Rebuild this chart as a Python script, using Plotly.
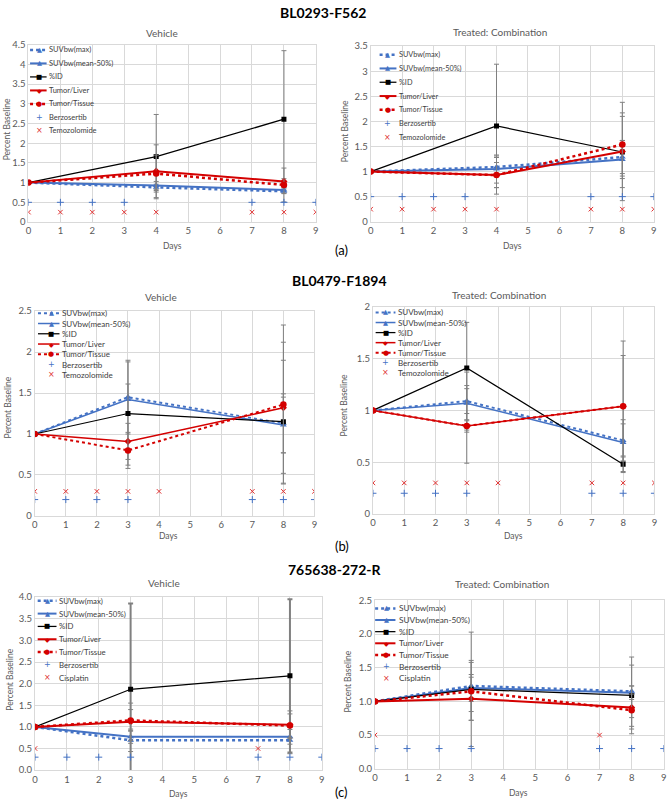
import plotly.graph_objects as go

W, H = 669, 807

# ---------------- data ----------------
DAYS_A = [0, 4, 8]
DAYS_BC = [0, 3, 8]
SERIES = ["SUVbw(max)", "SUVbw(mean-50%)", "%ID", "Tumor/Liver", "Tumor/Tissue"]

# (a) BL0293-F562 Vehicle
A_V_SUVMAX = [1.00, 0.88, 0.78]; A_V_SUVMAX_ERR = [0, 0.08, 0.06]
A_V_SUVMEAN = [1.00, 0.93, 0.81]; A_V_SUVMEAN_ERR = [0, 0.10, 0.08]
A_V_ID = [1.00, 1.66, 2.61]; A_V_ID_ERR = [0, 1.07, 1.74]
A_V_TL = [1.00, 1.29, 1.03]; A_V_TL_ERR = [0, 0.67, 0.07]
A_V_TT = [1.00, 1.23, 0.94]; A_V_TT_ERR = [0, 0.47, 0.43]
# (a) Treated
A_T_SUVMAX = [1.00, 1.09, 1.29]; A_T_SUVMAX_ERR = [0, 0.19, 0.33]
A_T_SUVMEAN = [1.00, 1.05, 1.24]; A_T_SUVMEAN_ERR = [0, 0.28, 0.38]
A_T_ID = [1.00, 1.91, 1.39]; A_T_ID_ERR = [0, 1.23, 0.71]
A_T_TL = [1.00, 0.93, 1.40]; A_T_TL_ERR = [0, 0.38, 0.98]
A_T_TT = [1.00, 0.93, 1.54]; A_T_TT_ERR = [0, 0.25, 0.63]

# (b) BL0479-F1894 Vehicle
B_V_SUVMAX = [1.00, 1.45, 1.13]; B_V_SUVMAX_ERR = [0, 0.45, 0.36]
B_V_SUVMEAN = [1.00, 1.42, 1.11]; B_V_SUVMEAN_ERR = [0, 0.19, 0.34]
B_V_ID = [1.00, 1.25, 1.15]; B_V_ID_ERR = [0, 0.63, 0.75]
B_V_TL = [1.00, 0.91, 1.32]; B_V_TL_ERR = [0, 0.22, 0.80]
B_V_TT = [1.00, 0.80, 1.36]; B_V_TT_ERR = [0, 0.22, 0.97]
# (b) Treated
B_T_SUVMAX = [1.00, 1.09, 0.71]; B_T_SUVMAX_ERR = [0, 0.28, 0.20]
B_T_SUVMEAN = [1.00, 1.07, 0.69]; B_T_SUVMEAN_ERR = [0, 0.17, 0.18]
B_T_ID = [1.00, 1.41, 0.48]; B_T_ID_ERR = [0, 0.44, 0.08]
B_T_TL = [1.00, 0.85, 1.04]; B_T_TL_ERR = [0, 0.36, 0.63]
B_T_TT = [1.00, 0.85, 1.04]; B_T_TT_ERR = [0, 0.06, 0.49]

# (c) 765638-272-R Vehicle
C_V_SUVMAX = [1.00, 0.69, 0.69]; C_V_SUVMAX_ERR = [0, 0.26, 0.31]
C_V_SUVMEAN = [1.00, 0.77, 0.77]; C_V_SUVMEAN_ERR = [0, 0.15, 0.17]
C_V_ID = [1.00, 1.87, 2.18]; C_V_ID_ERR = [0, 1.98, 1.77]
C_V_TL = [1.00, 1.12, 1.05]; C_V_TL_ERR = [0, 0.43, 0.32]
C_V_TT = [1.00, 1.15, 1.03]; C_V_TT_ERR = [0, 0.25, 0.27]
# (c) Treated
C_T_SUVMAX = [1.00, 1.23, 1.15]; C_T_SUVMAX_ERR = [0, 0.38, 0.39]
C_T_SUVMEAN = [1.00, 1.20, 1.13]; C_T_SUVMEAN_ERR = [0, 0.20, 0.10]
C_T_ID = [1.00, 1.18, 1.09]; C_T_ID_ERR = [0, 0.85, 0.57]
C_T_TL = [1.00, 1.04, 0.91]; C_T_TL_ERR = [0, 0.32, 0.32]
C_T_TT = [1.00, 1.15, 0.87]; C_T_TT_ERR = [0, 0.43, 0.24]

# dosing markers
BERZ_DAYS = [0, 1, 2, 3, 7, 8, 9]
TMZ_DAYS = [0, 1, 2, 3, 4, 7, 8, 9]
CIS_DAYS = [0, 7]
A_BERZ_LEVEL, A_TMZ_LEVEL = 0.5, 0.25
B_BERZ_LEVEL, B_TMZ_LEVEL = 0.2, 0.3
C_BERZ_LEVEL, C_CIS_LEVEL = 0.3, 0.5

GROUP_TITLES = ["BL0293-F562", "BL0479-F1894", "765638-272-R"]
PANEL_LABELS = ["(a)", "(b)", "(c)"]

# ---------------- styling ----------------
BLUE = "#4472C4"
RED = "#D40000"
XRED = "#E03030"
BLACK = "#000000"
GRID = "#D9D9D9"
ERRC = "#808080"
TXT = "#595959"
FONT = "Lato"

STYLES = [
    dict(color=BLUE, dash="dot", symbol="triangle-up", msize=6, glyph="▲", gsize=6.5),
    dict(color=BLUE, dash="solid", symbol="triangle-up", msize=6, glyph="▲", gsize=6.5),
    dict(color=BLACK, dash="solid", symbol="square", msize=5, glyph="■", gsize=6.5),
    dict(color=RED, dash="solid", symbol="diamond", msize=5.5, glyph="◆", gsize=6),
    dict(color=RED, dash="dot", symbol="circle", msize=6.5, glyph="●", gsize=7),
]

panels = [
    dict(days=DAYS_A,
         vals=[A_V_SUVMAX, A_V_SUVMEAN, A_V_ID, A_V_TL, A_V_TT],
         errs=[A_V_SUVMAX_ERR, A_V_SUVMEAN_ERR, A_V_ID_ERR, A_V_TL_ERR, A_V_TT_ERR],
         box=(25.7, 39.3, 315.7, 219.0), ymax=4.5, fmt="", title="Vehicle", txy=(160, 27),
         lw=2.0, et=1, drug2="Temozolomide", d2days=TMZ_DAYS, d2lvl=A_TMZ_LEVEL, berz=A_BERZ_LEVEL,
         leg=(27.3, 44, 36.5, 45.5, 44.5, 13.7), lfs=7.5, ylab=(4, 125), dlab=(171, 243)),
    dict(days=DAYS_A,
         vals=[A_T_SUVMAX, A_T_SUVMEAN, A_T_ID, A_T_TL, A_T_TT],
         errs=[A_T_SUVMAX_ERR, A_T_SUVMEAN_ERR, A_T_ID_ERR, A_T_TL_ERR, A_T_TT_ERR],
         box=(371.0, 40.7, 656.7, 218.7), ymax=3.5, fmt="", title="Treated: Combination", txy=(501.7, 26),
         lw=2.0, et=1, drug2="Temozolomide", d2days=TMZ_DAYS, d2lvl=A_TMZ_LEVEL, berz=A_BERZ_LEVEL,
         leg=(380, 397, 388, 398.5, 49.3, 14.0), lfs=7.3, ylab=(345, 127), dlab=(514, 243)),
    dict(days=DAYS_BC,
         vals=[B_V_SUVMAX, B_V_SUVMEAN, B_V_ID, B_V_TL, B_V_TT],
         errs=[B_V_SUVMAX_ERR, B_V_SUVMEAN_ERR, B_V_ID_ERR, B_V_TL_ERR, B_V_TT_ERR],
         box=(32.0, 309.3, 314.3, 517.0), ymax=2.5, fmt="", title="Vehicle", txy=(159, 295),
         lw=1.5, et=1, drug2="Temozolomide", d2days=TMZ_DAYS, d2lvl=B_TMZ_LEVEL, berz=B_BERZ_LEVEL,
         leg=(35.3, 57, 48.5, 59, 311.5, 10.4), lfs=8.0, ylab=(5, 407), dlab=(167, 537)),
    dict(days=DAYS_BC,
         vals=[B_T_SUVMAX, B_T_SUVMEAN, B_T_ID, B_T_TL, B_T_TT],
         errs=[B_T_SUVMAX_ERR, B_T_SUVMEAN_ERR, B_T_ID_ERR, B_T_TL_ERR, B_T_TT_ERR],
         box=(373.3, 305.0, 657.3, 515.0), ymax=2.0, fmt="", title="Treated: Combination", txy=(500.7, 292.7),
         lw=1.5, et=1, drug2="Temozolomide", d2days=TMZ_DAYS, d2lvl=B_TMZ_LEVEL, berz=B_BERZ_LEVEL,
         leg=(376, 396, 386, 398, 310.7, 10.2), lfs=8.0, ylab=(345, 405), dlab=(515, 537)),
    dict(days=DAYS_BC,
         vals=[C_V_SUVMAX, C_V_SUVMEAN, C_V_ID, C_V_TL, C_V_TT],
         errs=[C_V_SUVMAX_ERR, C_V_SUVMEAN_ERR, C_V_ID_ERR, C_V_TL_ERR, C_V_TT_ERR],
         box=(32.3, 599.3, 321.7, 774.7), ymax=4.0, fmt=".1f", title="Vehicle", txy=(162, 585),
         lw=2.0, et=2, drug2="Cisplatin", d2days=CIS_DAYS, d2lvl=C_CIS_LEVEL, berz=C_BERZ_LEVEL,
         leg=(35, 54, 44.5, 55.5, 603, 13.0), lfs=7.8, ylab=(7, 683), dlab=(177, 799)),
    dict(days=DAYS_BC,
         vals=[C_T_SUVMAX, C_T_SUVMEAN, C_T_ID, C_T_TL, C_T_TT],
         errs=[C_T_SUVMAX_ERR, C_T_SUVMEAN_ERR, C_T_ID_ERR, C_T_TL_ERR, C_T_TT_ERR],
         box=(375.3, 602.7, 666.7, 773.3), ymax=2.5, fmt=".1f", title="Treated: Combination", txy=(504, 586),
         lw=2.0, et=1, drug2="Cisplatin", d2days=CIS_DAYS, d2lvl=C_CIS_LEVEL, berz=C_BERZ_LEVEL,
         leg=(375.5, 396, 386.7, 398.3, 610.7, 11.8), lfs=8.3, ylab=(348, 685), dlab=(520, 798)),
]


def fx(p):
    return p / W


def fy(p):
    return 1 - p / H


fig = go.Figure()
annotations = []
shapes = []
layout_axes = {}

for i, p in enumerate(panels):
    k = "" if i == 0 else str(i + 1)
    xa, ya = "x" + k, "y" + k
    x0, y0, x1, y1 = p["box"]
    layout_axes["xaxis" + k] = dict(
        domain=[fx(x0), fx(x1)], anchor=ya, range=[0, 9], dtick=1, tick0=0,
        showgrid=True, gridcolor=GRID, gridwidth=1, zeroline=False,
        showline=True, linecolor=GRID, mirror=True, ticks="",
        tickfont=dict(family=FONT, size=9.5, color=TXT), fixedrange=True)
    layout_axes["yaxis" + k] = dict(
        domain=[fy(y1), fy(y0)], anchor=xa, range=[0, p["ymax"]], dtick=0.5, tick0=0,
        tickformat=p["fmt"], showgrid=True, gridcolor=GRID, gridwidth=1, zeroline=False,
        showline=True, linecolor=GRID, mirror=True, ticks="",
        tickfont=dict(family=FONT, size=9.5, color=TXT), fixedrange=True)

    for j, (vals, errs) in enumerate(zip(p["vals"], p["errs"])):
        st = STYLES[j]
        lw = 1.25 if j == 2 else (p["lw"] + (0.5 if st["dash"] == "dot" else 0))
        fig.add_trace(go.Scatter(
            x=p["days"], y=vals, xaxis=xa, yaxis=ya, mode="lines+markers",
            name=SERIES[j], showlegend=False,
            line=dict(color=st["color"], width=lw, dash=st["dash"]),
            marker=dict(symbol=st["symbol"], size=st["msize"], color=st["color"]),
            error_y=dict(type="data", array=errs, visible=True, color=ERRC,
                         thickness=p["et"] if j == 2 else 1, width=2.5)))

    fig.add_trace(go.Scatter(
        x=BERZ_DAYS, y=[p["berz"]] * len(BERZ_DAYS), xaxis=xa, yaxis=ya, mode="markers",
        name="Berzosertib", showlegend=False,
        marker=dict(symbol="cross-thin", size=5, line=dict(color=BLUE, width=1))))
    fig.add_trace(go.Scatter(
        x=p["d2days"], y=[p["d2lvl"]] * len(p["d2days"]), xaxis=xa, yaxis=ya, mode="markers",
        name=p["drug2"], showlegend=False,
        marker=dict(symbol="x-thin", size=4.5, line=dict(color=XRED, width=1))))

    # subplot title
    annotations.append(dict(text=p["title"], x=fx(p["txy"][0]), y=fy(p["txy"][1]), xref="paper", yref="paper",
                            xanchor="center", yanchor="middle", showarrow=False,
                            font=dict(family=FONT, size=10, color=TXT)))
    # axis titles
    annotations.append(dict(text="Percent Baseline", x=fx(p["ylab"][0]), y=fy(p["ylab"][1]), xref="paper",
                            yref="paper", xanchor="center", yanchor="middle", textangle=-90, showarrow=False,
                            font=dict(family=FONT, size=8.5, color=TXT)))
    annotations.append(dict(text="Days", x=fx(p["dlab"][0]), y=fy(p["dlab"][1]), xref="paper", yref="paper",
                            xanchor="center", yanchor="middle", showarrow=False,
                            font=dict(family=FONT, size=8.5, color=TXT)))

    # manual legend
    lx0, lx1, lmx, ltx, ly0, ldy = p["leg"]
    labels = SERIES + ["Berzosertib", p["drug2"]]
    for r, lab in enumerate(labels):
        yy = fy(ly0 + r * ldy)
        if r < 5:
            st = STYLES[r]
            lw = 1.25 if r == 2 else (p["lw"] + (0.5 if st["dash"] == "dot" else 0))
            shapes.append(dict(type="line", xref="paper", yref="paper", x0=fx(lx0), x1=fx(lx1), y0=yy, y1=yy,
                               line=dict(color=st["color"], width=lw, dash=st["dash"])))
            annotations.append(dict(text=st["glyph"], x=fx(lmx), y=yy, xref="paper", yref="paper",
                                    xanchor="center", yanchor="middle", showarrow=False, borderpad=0,
                                    font=dict(family="DejaVu Sans", size=st["gsize"], color=st["color"])))
        else:
            g, c = ("+", BLUE) if r == 5 else ("×", XRED)
            annotations.append(dict(text=g, x=fx(lmx), y=yy, xref="paper", yref="paper",
                                    xanchor="center", yanchor="middle", showarrow=False, borderpad=0,
                                    font=dict(family="DejaVu Sans", size=8, color=c)))
        annotations.append(dict(text=lab, x=fx(ltx), y=yy, xref="paper", yref="paper",
                                xanchor="left", yanchor="middle", showarrow=False, borderpad=0,
                                font=dict(family=FONT, size=p["lfs"], color="#404040")))

# group titles and panel labels
for t, (tx, ty) in zip(GROUP_TITLES, [(323, 7), (340, 278), (335, 571)]):
    annotations.append(dict(text="<b>" + t + "</b>", x=fx(tx), y=fy(ty), xref="paper", yref="paper",
                            xanchor="center", yanchor="middle", showarrow=False,
                            font=dict(family=FONT, size=14, color="#000000")))
for t, (tx, ty) in zip(PANEL_LABELS, [(333, 247), (333, 547), (333, 797)]):
    annotations.append(dict(text=t, x=fx(tx), y=fy(ty), xref="paper", yref="paper",
                            xanchor="left", yanchor="middle", showarrow=False,
                            font=dict(family=FONT, size=13, color="#000000")))

fig.update_layout(
    width=W, height=H, margin=dict(l=0, r=0, t=0, b=0),
    paper_bgcolor="white", plot_bgcolor="white", showlegend=False,
    annotations=annotations, shapes=shapes, **layout_axes)

fig.write_html("out.html")
